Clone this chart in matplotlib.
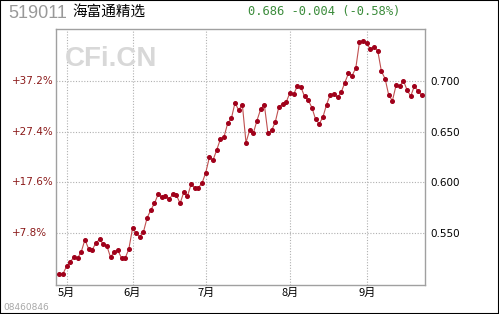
import matplotlib
matplotlib.use("Agg")
import matplotlib.pyplot as plt
from matplotlib.patches import Rectangle

# daily NAV, late April to late September (trading days)
nav = [0.5098, 0.5098, 0.5171, 0.5217, 0.5260, 0.5253, 0.5315, 0.5434, 0.5345, 0.5335,
       0.5401, 0.5438, 0.5391, 0.5372, 0.5260, 0.5315, 0.5329, 0.5253, 0.5253, 0.5342,
       0.5546, 0.5500, 0.5463, 0.5513, 0.5651, 0.5727, 0.5793, 0.5882, 0.5855, 0.5865,
       0.5833, 0.5882, 0.5872, 0.5793, 0.5902, 0.5862, 0.5981, 0.5947, 0.5947, 0.5993,
       0.6095, 0.6247, 0.6220, 0.6319, 0.6426, 0.6449, 0.6583, 0.6630, 0.6785, 0.6712,
       0.6768, 0.6393, 0.6514, 0.6485, 0.6610, 0.6721, 0.6768, 0.6484, 0.6512, 0.6595,
       0.6748, 0.6771, 0.6793, 0.6884, 0.6867, 0.6949, 0.6939, 0.6847, 0.6811, 0.6738,
       0.6623, 0.6578, 0.6642, 0.6766, 0.6866, 0.6872, 0.6839, 0.6888, 0.6985, 0.7076,
       0.7054, 0.7128, 0.7385, 0.7395, 0.7370, 0.7313, 0.7340, 0.7296, 0.7094, 0.7023,
       0.6859, 0.6806, 0.6958, 0.6949, 0.7003, 0.6911, 0.6850, 0.6951, 0.6900, 0.6860]

month_idx = [2, 20, 40, 63, 84]
month_labels = ["5月", "6月", "7月", "8月", "9月"]

nav_ticks = [0.550, 0.600, 0.650, 0.700]
nav_labels = ["0.550", "0.600", "0.650", "0.700"]
pct_labels = ["+7.8%", "+17.6%", "+27.4%", "+37.2%"]

code = "519011"
name = "海富通精选"
quote = "0.686 -0.004 (-0.58%)"
cjk = ["Noto Sans CJK SC", "DejaVu Sans"]

fig = plt.figure(figsize=(4.99, 3.14), dpi=100)
fig.patches.append(Rectangle((0, 0), 1, 1, transform=fig.transFigure,
                             fill=False, edgecolor="black", lw=1.5))

ax = fig.add_axes([56 / 499, 1 - 285 / 314, 369 / 499, 256 / 314])
x = list(range(len(nav)))
ax.plot(x, nav, color="#c05050", lw=0.8, marker="o", ms=2.6,
        mfc="#a0001a", mec="#a0001a", zorder=3)

ax.set_xlim(-0.9, 99.9)
ax.set_ylim(0.4987, 0.7513)

for s in ax.spines.values():
    s.set_color("#a0a0a0")
    s.set_linewidth(1)

ax.set_xticks(month_idx)
ax.set_xticklabels(month_labels, family=cjk, fontsize=8)
ax.set_yticks(nav_ticks)
ax.set_yticklabels(nav_labels, fontsize=7.5, family="DejaVu Sans")
ax.yaxis.tick_right()
ax.tick_params(length=0, pad=4)
ax.tick_params(axis="x", pad=2)
ax.grid(True, color="#b0b0b0", lw=0.8, linestyle=(0, (1, 1.5)))

for v, lab in zip(nav_ticks, pct_labels):
    y = fig.transFigure.inverted().transform(ax.transData.transform((0, v)))[1]
    fig.text(12 / 499, y, lab, color="#8b1a1a", fontsize=7.5,
             ha="left", va="center")

fig.text(8 / 499, 1 - 13 / 314, code, color="#999999", fontsize=13,
         family="Liberation Sans", va="center")
fig.text(72 / 499, 1 - 12 / 314, name, color="black", fontsize=10.5,
         family=cjk, va="center")
fig.text(248 / 499, 1 - 12 / 314, quote, color="#3c8c3c", fontsize=8.7,
         family="DejaVu Sans Mono", va="center")
fig.text(65 / 499, 1 - 59 / 314, "CFi.CN", color="#d8d8d8", fontsize=20,
         family="Liberation Sans", weight="bold", va="center")
fig.text(3 / 499, 1 - 307 / 314, "08460846", color="#a8a8a8", fontsize=6.5,
         va="center")

fig.savefig("out.png", dpi=100)
